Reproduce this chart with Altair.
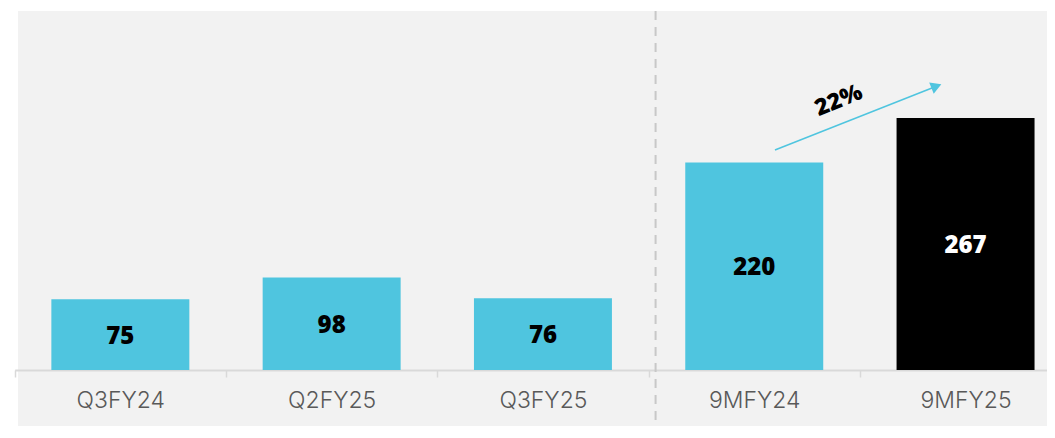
import altair as alt
import pandas as pd

categories = ["Q3FY24", "Q2FY25", "Q3FY25", "9MFY24", "9MFY25"]
values = [75, 98, 76, 220, 267]
bar_colors = ["#4FC5DF", "#4FC5DF", "#4FC5DF", "#4FC5DF", "#000000"]
label_colors = ["#000000", "#000000", "#000000", "#000000", "#FFFFFF"]

# annotation (in category-index units on x, value units on y)
arrow_x = [3.598, 4.362]
arrow_y = [233.1, 300.7]
growth_label = ["22%"]
growth_x = [3.9]
growth_y = [285.5]
separator_x = [3.033]

W = 1029
H = 415
X_RANGE = [-3.3, 1053.2]
Y_DOMAIN = [-59.3, 380.4]

bars_df = pd.DataFrame({
    "cat": categories,
    "value": values,
    "bar_color": bar_colors,
    "label_color": label_colors,
})

ysc = alt.Scale(domain=Y_DOMAIN, nice=False, zero=False)
xsc = alt.Scale(domain=categories, range=X_RANGE, paddingInner=0, paddingOuter=0)

xaxis = alt.Axis(
    title=None, labelAngle=0, offset=-56, orient="bottom",
    domainColor="#D9D9D9", domainWidth=2, tickColor="#D9D9D9", tickWidth=1.5,
    tickSize=7, tickBand="extent", labelFont="Inter", labelFontWeight=300,
    labelFontSize=23, labelColor="#595959", labelPadding=12, grid=False,
)

base = alt.Chart(bars_df)

bars = base.mark_bar(width=alt.RelativeBandSize(0.653)).encode(
    x=alt.X("cat:N", scale=xsc, axis=xaxis, sort=categories),
    y=alt.Y("value:Q", scale=ysc, axis=None),
    y2=alt.datum(0),
    color=alt.Color("bar_color:N", scale=None),
)

labels = base.transform_calculate(mid="datum.value / 2").mark_text(
    font="Open Sans", fontWeight=800, fontSize=24, baseline="middle", align="center", dy=2
).encode(
    x=alt.X("cat:N", scale=xsc, axis=xaxis, sort=categories),
    y=alt.Y("mid:Q", scale=ysc, axis=None),
    text=alt.Text("value:Q"),
    color=alt.Color("label_color:N", scale=None),
)

qsc = alt.Scale(domain=[0, 5], range=X_RANGE, nice=False, zero=False)

sep = alt.Chart(pd.DataFrame({"sx": separator_x})).mark_rule(
    color="#C8C8C8", strokeWidth=2, strokeDash=[9, 7]
).encode(
    x=alt.X("sx:Q", scale=qsc, axis=None),
    y=alt.value(0),
    y2=alt.value(H),
)

arrow_df = pd.DataFrame({"ax": arrow_x, "ay": arrow_y, "o": [0, 1]})
arrow_line = alt.Chart(arrow_df).mark_line(color="#4FC5DF", strokeWidth=1.5).encode(
    x=alt.X("ax:Q", scale=qsc, axis=None),
    y=alt.Y("ay:Q", scale=ysc, axis=None),
    order="o:Q",
)
arrow_head = alt.Chart(arrow_df.iloc[[1]]).mark_point(
    shape="triangle-right", filled=True, color="#4FC5DF", opacity=1, size=150, angle=338.4
).encode(
    x=alt.X("ax:Q", scale=qsc, axis=None),
    y=alt.Y("ay:Q", scale=ysc, axis=None),
)

growth = alt.Chart(pd.DataFrame({"gx": growth_x, "gy": growth_y, "t": growth_label})).mark_text(
    font="Open Sans", fontWeight=800, fontSize=23, angle=338, color="#000000",
    align="center", baseline="middle"
).encode(
    x=alt.X("gx:Q", scale=qsc, axis=None),
    y=alt.Y("gy:Q", scale=ysc, axis=None),
    text="t:N",
)

band_layer = alt.layer(bars, labels)
over_layer = alt.layer(sep, arrow_line, arrow_head, growth)

chart = alt.layer(band_layer, over_layer).resolve_scale(x="independent").properties(
    width=W, height=H,
    background="#FFFFFF",
    autosize=alt.AutoSizeParams(type="none"),
    padding={"left": 10, "top": 3, "right": 0, "bottom": 0},
).configure_view(fill="#F2F2F2", stroke="transparent", strokeWidth=0)

chart.save("out.html", embed_options={"renderer": "svg", "actions": False})
